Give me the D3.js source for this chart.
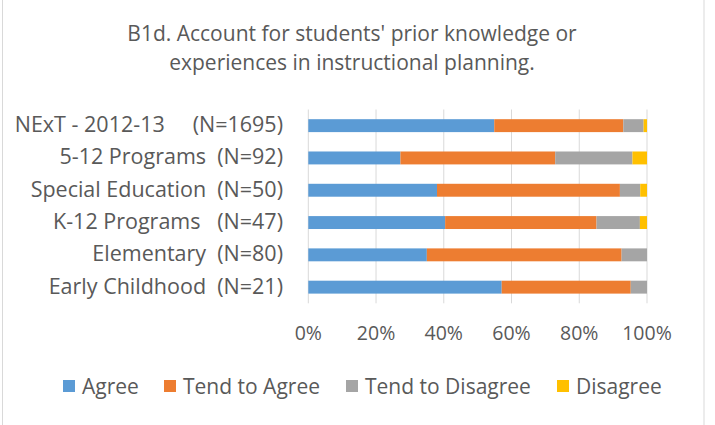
<!DOCTYPE html>
<html>
<head>
<meta charset="utf-8">
<script src="https://cdn.jsdelivr.net/npm/d3@7"></script>
<style>
  html, body { margin: 0; padding: 0; background: #fff; }
  svg { display: block; }
  text { font-family: "Open Sans", sans-serif; fill: #595959; }
</style>
</head>
<body>
<svg id="chart" width="715" height="425"></svg>
<script>
const categories = [
  "NExT - 2012-13     (N=1695)",
  "5-12 Programs  (N=92)",
  "Special Education  (N=50)",
  "K-12 Programs   (N=47)",
  "Elementary  (N=80)",
  "Early Childhood  (N=21)"
];
const seriesNames = ["Agree", "Tend to Agree", "Tend to Disagree", "Disagree"];
const agree        = [54.9, 27.2, 38.0, 40.4, 35.0, 57.1];
const tendAgree    = [38.1, 45.7, 54.0, 44.7, 57.5, 38.1];
const tendDisagree = [ 6.0, 22.8,  6.0, 12.8,  7.5,  4.8];
const disagree     = [ 1.0,  4.3,  2.0,  2.1,  0.0,  0.0];
const tickValues = [0, 20, 40, 60, 80, 100];
const titleLines = ["B1d. Account for students' prior knowledge or", "experiences in instructional planning."];
const colors = ["#5B9BD5", "#ED7D31", "#A5A5A5", "#FFC000"];

const svg = d3.select("#chart");

// outer border
svg.append("rect").attr("x", 2.5).attr("y", -2).attr("width", 701.5).attr("height", 430)
  .attr("fill", "none").attr("stroke", "#D9D9D9").attr("stroke-width", 1);

const x = d3.scaleLinear().domain([0, 100]).range([308.3, 647]);
const y = d3.scaleBand().domain(categories).range([109.5, 303.3]).paddingInner(0.6).paddingOuter(0.3);

// gridlines
svg.append("g").selectAll("line").data(tickValues).join("line")
  .attr("x1", d => x(d)).attr("x2", d => x(d))
  .attr("y1", 109.5).attr("y2", 303.3)
  .attr("stroke", "#D9D9D9").attr("stroke-width", 1);

// stacked data
const rows = categories.map((c, i) => ({
  cat: c, "Agree": agree[i], "Tend to Agree": tendAgree[i],
  "Tend to Disagree": tendDisagree[i], "Disagree": disagree[i]
}));
const stack = d3.stack().keys(seriesNames)(rows);

svg.append("g").selectAll("g").data(stack).join("g")
  .attr("fill", (d, i) => colors[i])
  .selectAll("rect").data(d => d).join("rect")
  .attr("x", d => x(d[0]))
  .attr("y", d => y(d.data.cat))
  .attr("width", d => Math.max(0, x(d[1]) - x(d[0])))
  .attr("height", y.bandwidth());

// category labels
svg.append("g").selectAll("text").data(categories).join("text")
  .attr("x", 283).attr("y", d => y(d) + y.bandwidth() / 2)
  .attr("dy", "0.3em").attr("text-anchor", "end")
  .attr("font-size", 21.5).style("white-space", "pre")
  .text(d => d);

// x axis tick labels
svg.append("g").selectAll("text").data(tickValues).join("text")
  .attr("x", d => x(d)).attr("y", 340)
  .attr("text-anchor", "middle").attr("font-size", 19.5)
  .text(d => d + "%");

// title
svg.append("g").selectAll("text").data(titleLines).join("text")
  .attr("x", 352).attr("y", (d, i) => 41 + i * 29)
  .attr("text-anchor", "middle").attr("font-size", 21)
  .text(d => d);

// legend
const legendX = [63, 164, 346, 557];
const lg = svg.append("g").selectAll("g").data(seriesNames).join("g")
  .attr("transform", (d, i) => `translate(${legendX[i]},386)`);
lg.append("rect").attr("x", 0).attr("y", -6).attr("width", 12).attr("height", 12)
  .attr("fill", (d, i) => colors[i]);
lg.append("text").attr("x", 19).attr("y", 7.5)
  .attr("font-size", 21).text(d => d);
</script>
</body>
</html>
